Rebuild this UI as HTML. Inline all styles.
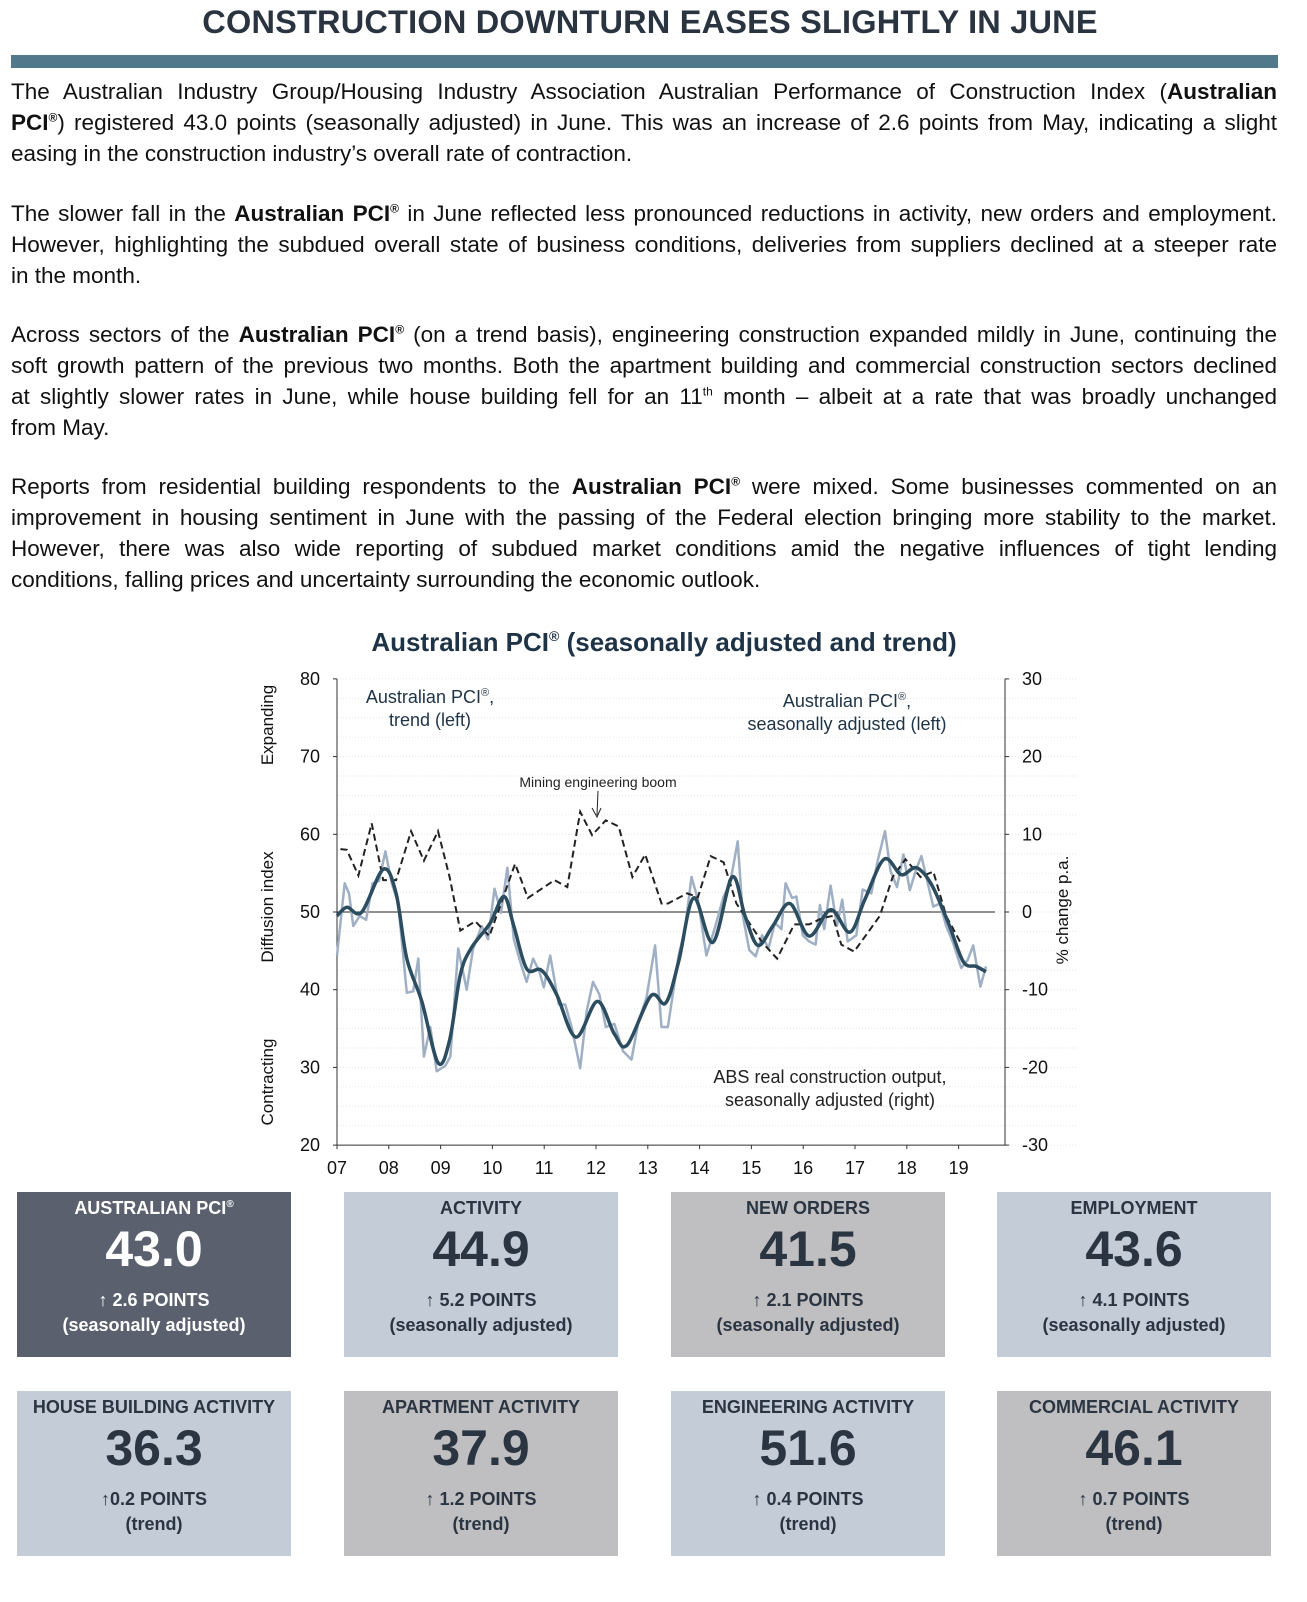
<!DOCTYPE html>
<html><head><meta charset="utf-8"><style>
body{margin:0;width:1307px;height:1602px;background:#fff;position:relative;font-family:"Liberation Sans",Arial,sans-serif;overflow:hidden}
#title{position:absolute;left:0;width:1300px;top:4px;text-align:center;font-size:32.5px;font-weight:bold;color:#2a3440;letter-spacing:0.2px}
#bar{position:absolute;left:11px;width:1267px;top:55px;height:13px;background:#52788c}
.p{position:absolute;left:11px;width:1266px;font-size:22.5px;line-height:31px;color:#111;margin:0}
.p div{height:31px;white-space:nowrap;text-align:justify;text-align-last:justify}
.p div.l{text-align:left;text-align-last:left}
.p sup{font-size:12px;line-height:0}
.card{position:absolute;width:274px;height:165px;text-align:center;color:#2b3542}
.card .h{position:absolute;left:0;right:0;top:6px;font-size:18px;font-weight:bold}
.card .v{position:absolute;left:0;right:0;top:28px;font-size:50px;font-weight:bold}
.card .c{position:absolute;left:0;right:0;top:96px;font-size:18px;font-weight:bold;line-height:25px}
.blue{background:#c4ccd8}.grey{background:#bfbfc1}
</style></head><body>
<div id="title">CONSTRUCTION DOWNTURN EASES SLIGHTLY IN JUNE</div>
<div id="bar"></div>
<div class="p" style="top:76px">
<div>The Australian Industry Group/Housing Industry Association Australian Performance of Construction Index (<b>Australian</b></div>
<div><b>PCI<sup>®</sup></b>) registered 43.0 points (seasonally adjusted) in June. This was an increase of 2.6 points from May, indicating a slight</div>
<div class="l">easing in the construction industry’s overall rate of contraction.</div></div>
<div class="p" style="top:198px">
<div>The slower fall in the <b>Australian PCI<sup>®</sup></b> in June reflected less pronounced reductions in activity, new orders and employment.</div>
<div>However, highlighting the subdued overall state of business conditions, deliveries from suppliers declined at a steeper rate</div>
<div class="l">in the month.</div></div>
<div class="p" style="top:319px">
<div>Across sectors of the <b>Australian PCI<sup>®</sup></b> (on a trend basis), engineering construction expanded mildly in June, continuing the</div>
<div>soft growth pattern of the previous two months. Both the apartment building and commercial construction sectors declined</div>
<div>at slightly slower rates in June, while house building fell for an 11<sup>th</sup> month – albeit at a rate that was broadly unchanged</div>
<div class="l">from May.</div></div>
<div class="p" style="top:471px">
<div>Reports from residential building respondents to the <b>Australian PCI<sup>®</sup></b> were mixed. Some businesses commented on an</div>
<div>improvement in housing sentiment in June with the passing of the Federal election bringing more stability to the market.</div>
<div>However, there was also wide reporting of subdued market conditions amid the negative influences of tight lending</div>
<div class="l">conditions, falling prices and uncertainty surrounding the economic outlook.</div></div>

<svg id="chart" style="position:absolute;left:0;top:0" width="1307" height="1602" font-family="Liberation Sans, Arial, sans-serif">
<text x="664" y="651" text-anchor="middle" font-size="26" font-weight="bold" fill="#1f3347">Australian PCI<tspan font-size="14" dy="-10">®</tspan><tspan dy="10"> (seasonally adjusted and trend)</tspan></text>
<g id="grid"></g><g id="axes"></g><g id="series"></g>
<g fill="#1f3347" font-size="18" text-anchor="middle">
<text x="430" y="703">Australian PCI<tspan font-size="11" dy="-7">®</tspan><tspan dy="7">,</tspan></text>
<text x="430" y="726">trend (left)</text>
<text x="847" y="707">Australian PCI<tspan font-size="11" dy="-7">®</tspan><tspan dy="7">,</tspan></text>
<text x="847" y="730">seasonally adjusted (left)</text>
</g>
<g fill="#222" font-size="18" text-anchor="middle">
<text x="830" y="1083">ABS real construction output,</text>
<text x="830" y="1106">seasonally adjusted (right)</text>
</g>
<text x="598" y="787" text-anchor="middle" font-size="14" fill="#222">Mining engineering boom</text>
<path d="M598 791 L597 815 M592 808 L597 817 L601 808" stroke="#222" fill="none" stroke-width="1"/>
<g font-size="17" fill="#111">
<text transform="translate(273,725) rotate(-90)" text-anchor="middle">Expanding</text>
<text transform="translate(273,907) rotate(-90)" text-anchor="middle">Diffusion index</text>
<text transform="translate(273,1082) rotate(-90)" text-anchor="middle">Contracting</text>
<text transform="translate(1068,910) rotate(-90)" text-anchor="middle">% change p.a.</text>
</g>
</svg>

<div class="card" style="left:17px;top:1192px;background:#5a606e;color:#fff"><div class="h">AUSTRALIAN PCI<sup style="font-size:10px">®</sup></div><div class="v">43.0</div><div class="c">↑ 2.6 POINTS<br>(seasonally adjusted)</div></div>
<div class="card blue" style="left:344px;top:1192px"><div class="h">ACTIVITY</div><div class="v">44.9</div><div class="c">↑ 5.2 POINTS<br>(seasonally adjusted)</div></div>
<div class="card grey" style="left:671px;top:1192px"><div class="h">NEW ORDERS</div><div class="v">41.5</div><div class="c">↑ 2.1 POINTS<br>(seasonally adjusted)</div></div>
<div class="card blue" style="left:997px;top:1192px"><div class="h">EMPLOYMENT</div><div class="v">43.6</div><div class="c">↑ 4.1 POINTS<br>(seasonally adjusted)</div></div>
<div class="card blue" style="left:17px;top:1391px"><div class="h">HOUSE BUILDING ACTIVITY</div><div class="v">36.3</div><div class="c">↑0.2 POINTS<br>(trend)</div></div>
<div class="card grey" style="left:344px;top:1391px"><div class="h">APARTMENT ACTIVITY</div><div class="v">37.9</div><div class="c">↑ 1.2 POINTS<br>(trend)</div></div>
<div class="card blue" style="left:671px;top:1391px"><div class="h">ENGINEERING ACTIVITY</div><div class="v">51.6</div><div class="c">↑ 0.4 POINTS<br>(trend)</div></div>
<div class="card grey" style="left:997px;top:1391px"><div class="h">COMMERCIAL ACTIVITY</div><div class="v">46.1</div><div class="c">↑ 0.7 POINTS<br>(trend)</div></div>

<script>
const yearTicks=["07","08","09","10","11","12","13","14","15","16","17","18","19"];
const leftTicks=[20,30,40,50,60,70,80];
const rightTicks=[-30,-20,-10,0,10,20,30];
const trendX=[32,55,90,140,170,195,230,268,295,320,345,390,422,445,475,510,545,590,640,680,710,765,800,830,865,910,955,985,1015,1050,1090,1135,1185,1230,1265,1310,1350,1385,1420,1460,1495,1525,1548];
const trendV=[49.5,50.6,50,55.5,52.4,44,38.5,30.6,33.5,41.9,45.3,48.6,52,48.2,42.7,42.5,39.4,33.9,38.5,34.3,32.9,39.2,38.3,43.6,51.8,46.1,54.5,49.5,45.7,48.2,51.1,46.9,50.3,47.4,51.6,56.8,54.8,55.7,53.6,48.6,43.6,43,42.3];
const saX=[32,50,60,70,85,100,115,130,145,160,175,195,210,222,235,250,265,285,297,315,335,350,370,385,400,415,430,445,460,475,490,505,515,530,550,565,580,600,615,630,645,660,680,700,720,735,755,775,790,805,820,830,845,860,875,895,915,935,950,968,980,995,1010,1025,1040,1055,1070,1080,1095,1105,1120,1135,1150,1160,1170,1185,1200,1212,1225,1245,1260,1280,1295,1312,1325,1340,1355,1370,1385,1397,1412,1425,1440,1455,1470,1490,1505,1518,1535,1548];
const saV=[44.4,53.7,52.4,48.2,49.5,49,53.7,54,57.8,53.7,51.1,39.6,39.8,44,31.4,35.2,29.5,30.2,31.4,45.3,40,45.3,48.2,46.5,53,49.9,55.7,46.5,43.6,41,44,42.3,40.3,44.4,38.1,38.1,35.2,29.9,37.2,41,39.4,35.2,35.6,32.1,31,35.6,39,45.7,35.2,35.2,40.7,44.4,47.8,54.5,51.6,44.4,48,52,53.6,59.1,49.5,45.1,44.3,47,45.3,48.6,47.8,53.7,51.8,52,47,46.2,45.8,50.9,47.8,53.4,48.2,51.6,46.2,47,52.9,52.4,56.6,60.4,55.3,53.2,57.4,52.8,55.5,57.2,53.7,50.7,51.1,48.2,46.2,42.8,43.8,45.7,40.4,43];
const absX=[40,55,82,113,140,170,205,235,268,295,320,355,388,415,448,478,540,570,600,628,660,690,722,752,790,805,850,875,905,935,965,995,1025,1060,1100,1135,1165,1190,1210,1240,1270,1300,1330,1360,1395,1425,1455,1490];
const absV=[8.1,8,4.7,11.4,4.1,4.1,10.4,6.6,10.4,4.5,-2.4,-1.2,-3.1,1.1,6.2,1.8,4.1,3.2,12.9,9.9,11.8,11,4.5,7.4,1.1,1.1,2.4,1.9,7.2,6.4,1.1,-1.4,-3.9,-6,-1.6,-1.6,-0.8,-0.5,-4.2,-5.1,-2.8,-0.5,4.5,6.8,4.5,5.2,-0.5,-4.1];

const NS='http://www.w3.org/2000/svg';
const X0=337,PX_YEAR=51.8,Y50=912,PX_UNIT=7.77;
function xYear(y){return X0+(y-2007)*PX_YEAR;}
function xIdx(zx){return xYear(2007+(zx-32)/121);}
function yL(v){return Y50-(v-50)*PX_UNIT;}
function yR(r){return yL(50+r);}
function mk(tag,attrs,parent){const e=document.createElementNS(NS,tag);for(const k in attrs)e.setAttribute(k,attrs[k]);parent.appendChild(e);return e;}
const grid=document.getElementById('grid'),axes=document.getElementById('axes'),series=document.getElementById('series');
for(let v=20;v<=80;v+=2.5){const l=mk('line',{x1:337,x2:1078,y1:yL(v),y2:yL(v),stroke:'#e2e6ea','stroke-width':1,'stroke-dasharray':'1,2'},grid);

}
const la=mk('line',{x1:337,x2:337,y1:yL(80),y2:yL(20),stroke:'#333','stroke-width':1},axes);


const ra=mk('line',{x1:1005,x2:1005,y1:yL(80),y2:yL(20),stroke:'#333','stroke-width':1},axes);


const ba=mk('line',{x1:337,x2:1005,y1:yL(20),y2:yL(20),stroke:'#333','stroke-width':1},axes);


const zl=mk('line',{x1:337,x2:995,y1:yL(50),y2:yL(50),stroke:'#222','stroke-width':1},axes);


leftTicks.forEach(v=>{mk('line',{x1:333,x2:337,y1:yL(v),y2:yL(v),stroke:'#333'},axes);
const t=mk('text',{x:320,y:yL(v)+6,'text-anchor':'end','font-size':18,fill:'#111'},axes);t.textContent=v;

});
rightTicks.forEach(r=>{mk('line',{x1:1005,x2:1009,y1:yR(r),y2:yR(r),stroke:'#333'},axes);
const t=mk('text',{x:1022,y:yR(r)+6,'text-anchor':'start','font-size':18,fill:'#111'},axes);t.textContent=r;

});
yearTicks.forEach((s,i)=>{const x=xYear(2007+i);mk('line',{x1:x,x2:x,y1:yL(20),y2:yL(20)+4,stroke:'#333'},axes);
const t=mk('text',{x:x,y:1174,'text-anchor':'middle','font-size':18,fill:'#111'},axes);t.textContent=s;

});
function poly(xs,vs,yf){return xs.map((z,i)=>(i?'L':'M')+xIdx(z).toFixed(1)+' '+yf(vs[i]).toFixed(1)).join(' ');}
function smooth(xs,vs,yf){const p=xs.map((z,i)=>[xIdx(z),yf(vs[i])]);let d='M'+p[0][0]+' '+p[0][1];
for(let i=0;i<p.length-1;i++){const a=p[i-1]||p[i],b=p[i],c=p[i+1],e=p[i+2]||c;
d+=' C'+(b[0]+(c[0]-a[0])/6).toFixed(1)+' '+(b[1]+(c[1]-a[1])/6).toFixed(1)+' '+(c[0]-(e[0]-b[0])/6).toFixed(1)+' '+(c[1]-(e[1]-b[1])/6).toFixed(1)+' '+c[0].toFixed(1)+' '+c[1].toFixed(1);}return d;}
const sa=mk('path',{d:poly(saX,saV,yL),fill:'none',stroke:'#9fb0c4','stroke-width':2.5,'stroke-linejoin':'round'},series);


const ab=mk('path',{d:poly(absX,absV,yR),fill:'none',stroke:'#222','stroke-width':2,'stroke-dasharray':'7,4'},series);


const tr=mk('path',{d:smooth(trendX,trendV,yL),fill:'none',stroke:'#2c4d60','stroke-width':3.5,'stroke-linejoin':'round'},series);


</script>
</body></html>
